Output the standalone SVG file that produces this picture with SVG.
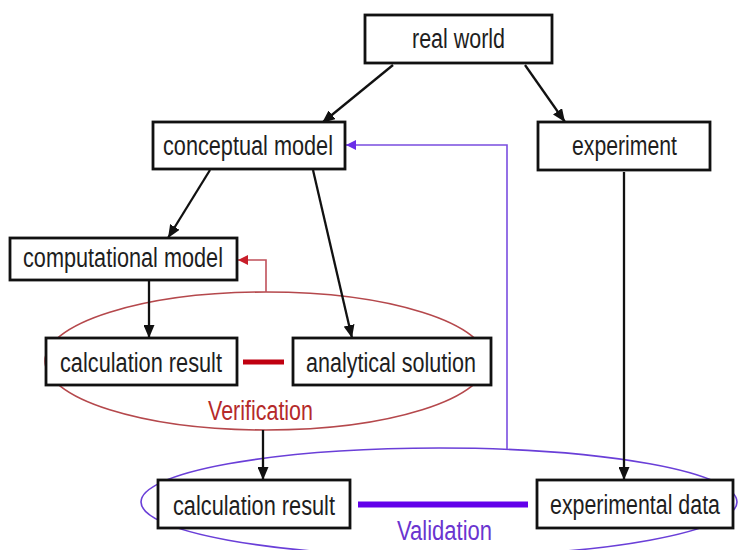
<svg xmlns="http://www.w3.org/2000/svg" width="739" height="550" viewBox="0 0 739 550">
  <style>
    .box { fill: #ffffff; stroke: #111111; stroke-width: 2.8; }
    .lbl { font-family: "Liberation Sans", Arial, sans-serif; font-size: 27px; fill: #1e1e1e; text-anchor: middle; }
    .arrow { fill: none; stroke: #111111; stroke-width: 2.3; marker-end: url(#headBlack); }
    .ver { font-family: "Liberation Sans", Arial, sans-serif; font-size: 27px; fill: #b52a2a; text-anchor: middle; }
    .val { font-family: "Liberation Sans", Arial, sans-serif; font-size: 27px; fill: #6a35d0; text-anchor: middle; }
  </style>
  <defs>
    <marker id="headBlack" markerWidth="13" markerHeight="11" refX="13" refY="5.5" orient="auto" markerUnits="userSpaceOnUse">
      <path d="M0,0 L13,5.5 L0,11 Z" fill="#111111"/>
    </marker>
    <marker id="headRed" markerWidth="10" markerHeight="10" refX="10" refY="5" orient="auto" markerUnits="userSpaceOnUse">
      <path d="M0,0 L10,5 L0,10 Z" fill="#c81e2a"/>
    </marker>
    <marker id="headPurple" markerWidth="10" markerHeight="10" refX="10" refY="5" orient="auto" markerUnits="userSpaceOnUse">
      <path d="M0,0 L10,5 L0,10 Z" fill="#6a2ee8"/>
    </marker>
  </defs>

  <rect width="739" height="550" fill="#ffffff"/>

  <!-- grouping ellipses -->
  <g id="verification">
    <ellipse cx="266" cy="361" rx="221" ry="69" fill="none" stroke="#b5484c" stroke-width="1.6"/>
    <text class="ver" x="260.5" y="420" textLength="105" lengthAdjust="spacingAndGlyphs">Verification</text>
  </g>
  <g id="validation">
    <ellipse cx="439" cy="502" rx="298" ry="54" fill="none" stroke="#6a3fd8" stroke-width="1.6"/>
    <text class="val" x="444.5" y="540" textLength="95" lengthAdjust="spacingAndGlyphs">Validation</text>
  </g>

  <!-- connectors -->
  <g id="connectors">
    <line class="arrow" x1="393" y1="65" x2="322" y2="123"/>
    <line class="arrow" x1="525" y1="65" x2="565" y2="122"/>
    <line class="arrow" x1="210" y1="170" x2="168" y2="238"/>
    <line class="arrow" x1="313" y1="170" x2="352" y2="338"/>
    <line class="arrow" x1="149" y1="281" x2="149" y2="338"/>
    <line class="arrow" x1="263" y1="430" x2="263" y2="480"/>
    <line class="arrow" x1="624" y1="172" x2="624" y2="480"/>
    <polyline points="266,292 266,260 238,260" fill="none" stroke="#c0505a" stroke-width="1.6" marker-end="url(#headRed)"/>
    <polyline points="507,449 507,145 346,145" fill="none" stroke="#7a4ee0" stroke-width="1.6" marker-end="url(#headPurple)"/>
    <line x1="243" y1="362" x2="284" y2="362" stroke="#c00010" stroke-width="5"/>
    <line x1="358" y1="504.5" x2="528" y2="504.5" stroke="#6200ea" stroke-width="6"/>
  </g>

  <!-- nodes -->
  <g id="real-world">
    <rect class="box" x="365" y="15" width="187" height="48"/>
    <text class="lbl" x="458.5" y="48" textLength="93" lengthAdjust="spacingAndGlyphs">real world</text>
  </g>
  <g id="conceptual-model">
    <rect class="box" x="153" y="122" width="192" height="47"/>
    <text class="lbl" x="248" y="155" textLength="170" lengthAdjust="spacingAndGlyphs">conceptual model</text>
  </g>
  <g id="experiment">
    <rect class="box" x="538" y="122" width="172" height="48"/>
    <text class="lbl" x="624.5" y="155" textLength="105" lengthAdjust="spacingAndGlyphs">experiment</text>
  </g>
  <g id="computational-model">
    <rect class="box" x="10" y="238" width="227" height="42"/>
    <text class="lbl" x="123" y="267" textLength="200" lengthAdjust="spacingAndGlyphs">computational model</text>
  </g>
  <g id="calculation-result-1">
    <rect class="box" x="46" y="338" width="191" height="47"/>
    <text class="lbl" x="141" y="372" textLength="162" lengthAdjust="spacingAndGlyphs">calculation result</text>
  </g>
  <g id="analytical-solution">
    <rect class="box" x="293" y="338" width="198" height="47"/>
    <text class="lbl" x="391" y="372" textLength="170" lengthAdjust="spacingAndGlyphs">analytical solution</text>
  </g>
  <g id="calculation-result-2">
    <rect class="box" x="158" y="480" width="192" height="48"/>
    <text class="lbl" x="254" y="515" textLength="162" lengthAdjust="spacingAndGlyphs">calculation result</text>
  </g>
  <g id="experimental-data">
    <rect class="box" x="537" y="480" width="196" height="48"/>
    <text class="lbl" x="635" y="514" textLength="170" lengthAdjust="spacingAndGlyphs">experimental data</text>
  </g>
</svg>
